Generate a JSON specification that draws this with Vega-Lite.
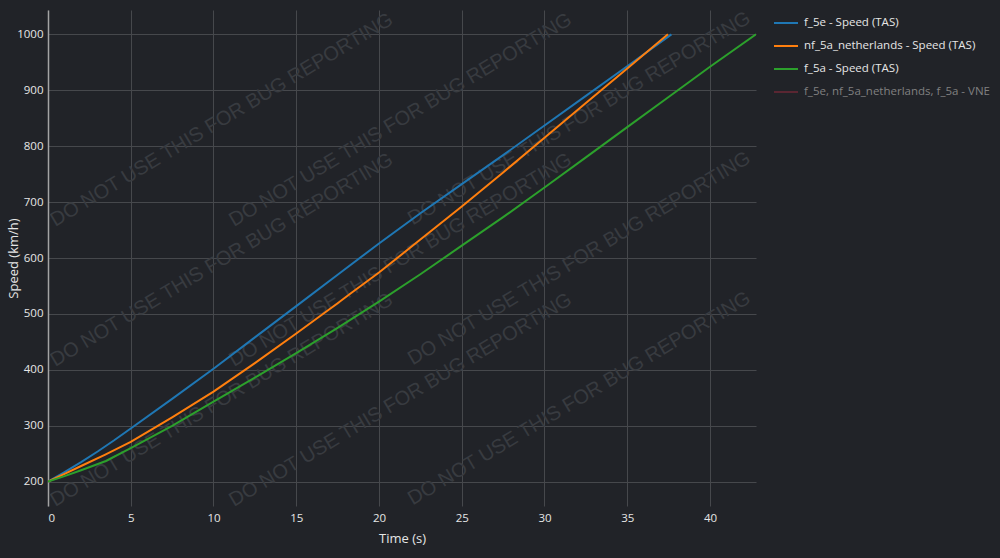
{
  "$schema": "https://vega.github.io/schema/vega-lite/v6.json",
  "width": 708,
  "height": 496,
  "autosize": {"type": "none"},
  "padding": {"left": 48, "top": 10, "right": 244, "bottom": 52},
  "background": "#212328",
  "config": {"view": {"stroke": null}, "font": "Open Sans"},
  "datasets": {
    "wm": [
      {"t": 10.5, "v": 846.8, "label": "DO NOT USE THIS FOR BUG REPORTING"},
      {"t": 21.3, "v": 846.8, "label": "DO NOT USE THIS FOR BUG REPORTING"},
      {"t": 32.1, "v": 849.5, "label": "DO NOT USE THIS FOR BUG REPORTING"},
      {"t": 10.5, "v": 596.5, "label": "DO NOT USE THIS FOR BUG REPORTING"},
      {"t": 21.3, "v": 596.5, "label": "DO NOT USE THIS FOR BUG REPORTING"},
      {"t": 32.1, "v": 599.0, "label": "DO NOT USE THIS FOR BUG REPORTING"},
      {"t": 10.5, "v": 346.1, "label": "DO NOT USE THIS FOR BUG REPORTING"},
      {"t": 21.3, "v": 346.1, "label": "DO NOT USE THIS FOR BUG REPORTING"},
      {"t": 32.1, "v": 348.6, "label": "DO NOT USE THIS FOR BUG REPORTING"}
    ],
    "speed": [
      {"series": "f_5e - Speed (TAS)", "t": 0, "v": 200},
      {"series": "f_5e - Speed (TAS)", "t": 1, "v": 217},
      {"series": "f_5e - Speed (TAS)", "t": 2, "v": 235},
      {"series": "f_5e - Speed (TAS)", "t": 3, "v": 254},
      {"series": "f_5e - Speed (TAS)", "t": 4, "v": 274},
      {"series": "f_5e - Speed (TAS)", "t": 5, "v": 295},
      {"series": "f_5e - Speed (TAS)", "t": 7.5, "v": 348},
      {"series": "f_5e - Speed (TAS)", "t": 10, "v": 402},
      {"series": "f_5e - Speed (TAS)", "t": 12.5, "v": 458},
      {"series": "f_5e - Speed (TAS)", "t": 15, "v": 514},
      {"series": "f_5e - Speed (TAS)", "t": 17.5, "v": 570},
      {"series": "f_5e - Speed (TAS)", "t": 20, "v": 626},
      {"series": "f_5e - Speed (TAS)", "t": 22.5, "v": 680},
      {"series": "f_5e - Speed (TAS)", "t": 25, "v": 732},
      {"series": "f_5e - Speed (TAS)", "t": 27.5, "v": 784},
      {"series": "f_5e - Speed (TAS)", "t": 30, "v": 837},
      {"series": "f_5e - Speed (TAS)", "t": 32.5, "v": 890},
      {"series": "f_5e - Speed (TAS)", "t": 35, "v": 943},
      {"series": "f_5e - Speed (TAS)", "t": 37.67, "v": 1000},
      {"series": "nf_5a_netherlands - Speed (TAS)", "t": 0, "v": 200},
      {"series": "nf_5a_netherlands - Speed (TAS)", "t": 1, "v": 214},
      {"series": "nf_5a_netherlands - Speed (TAS)", "t": 2, "v": 228},
      {"series": "nf_5a_netherlands - Speed (TAS)", "t": 3.43, "v": 248},
      {"series": "nf_5a_netherlands - Speed (TAS)", "t": 5, "v": 271},
      {"series": "nf_5a_netherlands - Speed (TAS)", "t": 7.5, "v": 315},
      {"series": "nf_5a_netherlands - Speed (TAS)", "t": 10, "v": 361},
      {"series": "nf_5a_netherlands - Speed (TAS)", "t": 12.5, "v": 412},
      {"series": "nf_5a_netherlands - Speed (TAS)", "t": 15, "v": 465},
      {"series": "nf_5a_netherlands - Speed (TAS)", "t": 17.5, "v": 519},
      {"series": "nf_5a_netherlands - Speed (TAS)", "t": 18.3, "v": 537},
      {"series": "nf_5a_netherlands - Speed (TAS)", "t": 20, "v": 574},
      {"series": "nf_5a_netherlands - Speed (TAS)", "t": 22.5, "v": 633},
      {"series": "nf_5a_netherlands - Speed (TAS)", "t": 25, "v": 692},
      {"series": "nf_5a_netherlands - Speed (TAS)", "t": 27.5, "v": 753},
      {"series": "nf_5a_netherlands - Speed (TAS)", "t": 30, "v": 815},
      {"series": "nf_5a_netherlands - Speed (TAS)", "t": 32.5, "v": 877},
      {"series": "nf_5a_netherlands - Speed (TAS)", "t": 35, "v": 939},
      {"series": "nf_5a_netherlands - Speed (TAS)", "t": 37.46, "v": 1000},
      {"series": "f_5a - Speed (TAS)", "t": 0, "v": 200},
      {"series": "f_5a - Speed (TAS)", "t": 1, "v": 210},
      {"series": "f_5a - Speed (TAS)", "t": 2, "v": 220.5},
      {"series": "f_5a - Speed (TAS)", "t": 3.5, "v": 237},
      {"series": "f_5a - Speed (TAS)", "t": 5, "v": 260},
      {"series": "f_5a - Speed (TAS)", "t": 7.5, "v": 300},
      {"series": "f_5a - Speed (TAS)", "t": 10, "v": 343},
      {"series": "f_5a - Speed (TAS)", "t": 12.5, "v": 386},
      {"series": "f_5a - Speed (TAS)", "t": 15, "v": 430},
      {"series": "f_5a - Speed (TAS)", "t": 17.5, "v": 475},
      {"series": "f_5a - Speed (TAS)", "t": 20, "v": 522},
      {"series": "f_5a - Speed (TAS)", "t": 22.5, "v": 571},
      {"series": "f_5a - Speed (TAS)", "t": 25, "v": 622},
      {"series": "f_5a - Speed (TAS)", "t": 27.5, "v": 673},
      {"series": "f_5a - Speed (TAS)", "t": 30, "v": 726},
      {"series": "f_5a - Speed (TAS)", "t": 32.5, "v": 780},
      {"series": "f_5a - Speed (TAS)", "t": 35, "v": 834},
      {"series": "f_5a - Speed (TAS)", "t": 37.5, "v": 888},
      {"series": "f_5a - Speed (TAS)", "t": 40, "v": 942},
      {"series": "f_5a - Speed (TAS)", "t": 42.78, "v": 1000}
    ]
  },
  "encoding": {
    "x": {
      "field": "t", "type": "quantitative", "title": "Time (s)",
      "scale": {"domain": [0, 42.78], "nice": false, "zero": false},
      "axis": {
        "values": [0, 5, 10, 15, 20, 25, 30, 35, 40],
        "grid": true, "gridColor": "#46484c", "gridWidth": 1,
        "domain": false, "ticks": false,
        "labelColor": "#e6e6e6", "labelFontSize": 11.5, "labelPadding": 6, "labelFont": "Open Sans",
        "titleColor": "#e6e6e6", "titleFontSize": 13, "titleFontWeight": "normal", "titlePadding": 9, "titleFont": "Open Sans"
      }
    },
    "y": {
      "field": "v", "type": "quantitative", "title": "Speed (km/h)",
      "scale": {"domain": [156.5, 1043.5], "nice": false, "zero": false},
      "axis": {
        "values": [200, 300, 400, 500, 600, 700, 800, 900, 1000],
        "format": "d",
        "grid": true, "gridColor": "#46484c", "gridWidth": 1,
        "domain": true, "domainColor": "#a3a3a3", "domainWidth": 1.5, "ticks": false,
        "labelColor": "#e6e6e6", "labelFontSize": 11.5, "labelPadding": 5, "labelFont": "Open Sans",
        "titleColor": "#e6e6e6", "titleFontSize": 13, "titleFontWeight": "normal", "titlePadding": -4, "titleFont": "Open Sans"
      }
    }
  },
  "layer": [
    {
      "data": {"name": "wm"},
      "mark": {"type": "text", "angle": 329, "font": "Liberation Sans", "fontSize": 20, "fill": "#383b40", "align": "center", "baseline": "middle", "clip": true},
      "encoding": {"text": {"field": "label"}}
    },
    {
      "data": {"name": "speed"},
      "mark": {"type": "line", "strokeWidth": 2, "clip": true},
      "encoding": {
        "color": {
          "field": "series", "type": "nominal",
          "scale": {
            "domain": ["f_5e - Speed (TAS)", "nf_5a_netherlands - Speed (TAS)", "f_5a - Speed (TAS)", "f_5e, nf_5a_netherlands, f_5a - VNE"],
            "range": ["#1f77b4", "#ff7f0e", "#2ca02c", "#5a2632"]
          },
          "legend": {
            "title": null, "orient": "right", "offset": 17, "padding": 0,
            "symbolType": "stroke", "symbolSize": 576, "symbolStrokeWidth": 2,
            "labelFont": "Open Sans", "labelFontSize": 11.5, "labelColor": "#e6e6e6", "labelOffset": 5, "labelLimit": 300,
            "rowPadding": 4,
            "encode": {
              "labels": {"update": {"fill": {"signal": "datum.value == 'f_5e, nf_5a_netherlands, f_5a - VNE' ? '#808080' : '#e6e6e6'"}}}
            }
          }
        },
        "order": {"field": "t", "type": "quantitative"}
      }
    }
  ]
}
